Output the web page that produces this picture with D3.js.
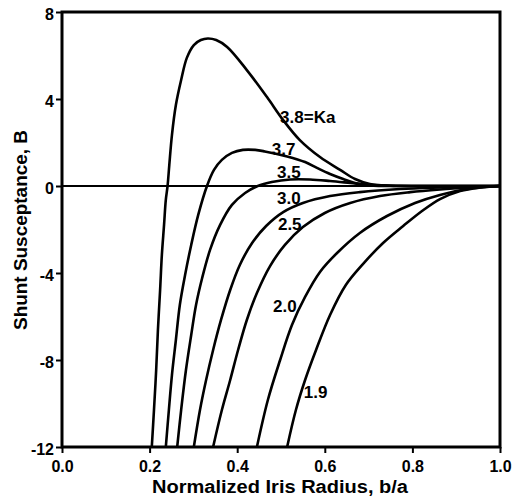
<!DOCTYPE html>
<html><head><meta charset="utf-8">
<script src="https://cdn.jsdelivr.net/npm/d3@7"></script>
<style>body{margin:0;background:#fff}svg{display:block}</style>
</head><body>
<script>
// Data: [b/a, B] pairs per Ka value
const kaLabels = ["3.8=Ka","3.7","3.5","3.0","2.5","2.0","1.9"];
const ka38 = [[0.205,-12],[0.210,-10.3],[0.215,-8.46],[0.219,-6.62],[0.224,-4.78],[0.228,-3.17],[0.233,-1.79],[0.237,-0.64],[0.241,0],[0.245,0.97],[0.251,2.34],[0.260,3.72],[0.272,4.87],[0.285,5.89],[0.301,6.48],[0.317,6.71],[0.333,6.78],[0.352,6.71],[0.377,6.39],[0.422,5.33],[0.468,4.09],[0.505,3.03],[0.543,2.11],[0.589,1.33],[0.635,0.74],[0.669,0.32],[0.703,0.09],[0.749,0.01],[0.85,0],[1.0,0]];
const ka37 = [[0.237,-12],[0.244,-10.3],[0.251,-8.69],[0.260,-7.08],[0.269,-5.47],[0.281,-4.09],[0.295,-2.71],[0.311,-1.33],[0.331,0],[0.347,0.74],[0.365,1.20],[0.388,1.52],[0.413,1.66],[0.441,1.66],[0.463,1.59],[0.514,1.36],[0.555,1.10],[0.582,0.83],[0.612,0.55],[0.642,0.32],[0.669,0.14],[0.703,0.03],[0.772,0],[0.85,0],[1.0,0]];
const ka35 = [[0.263,-12],[0.272,-10.3],[0.283,-8.46],[0.295,-6.85],[0.306,-5.47],[0.320,-4.23],[0.338,-2.94],[0.361,-1.79],[0.388,-0.87],[0.418,-0.32],[0.447,0],[0.479,0.18],[0.521,0.30],[0.566,0.30],[0.612,0.23],[0.658,0.14],[0.703,0.05],[0.772,0.01],[0.85,0],[1.0,0]];
const ka30 = [[0.301,-12],[0.315,-10.3],[0.329,-8.92],[0.345,-7.54],[0.363,-6.16],[0.384,-4.78],[0.406,-3.63],[0.434,-2.62],[0.466,-1.84],[0.505,-1.20],[0.550,-0.78],[0.612,-0.46],[0.680,-0.28],[0.772,-0.14],[0.863,-0.07],[1.0,0]];
const ka25 = [[0.345,-12],[0.365,-10.3],[0.384,-8.92],[0.402,-7.54],[0.422,-6.16],[0.445,-4.92],[0.475,-3.68],[0.509,-2.71],[0.550,-1.89],[0.600,-1.24],[0.658,-0.78],[0.726,-0.46],[0.795,-0.28],[0.863,-0.16],[0.932,-0.07],[1.0,0]];
const ka20 = [[0.445,-12],[0.470,-9.84],[0.498,-8.0],[0.525,-6.39],[0.555,-5.10],[0.589,-3.95],[0.628,-3.08],[0.680,-2.16],[0.742,-1.38],[0.806,-0.78],[0.863,-0.41],[0.925,-0.14],[1.0,0]];
const ka19 = [[0.514,-12],[0.534,-10.3],[0.555,-8.92],[0.580,-7.54],[0.612,-5.93],[0.648,-4.55],[0.687,-3.59],[0.733,-2.62],[0.779,-1.84],[0.822,-1.15],[0.863,-0.60],[0.909,-0.23],[0.954,-0.07],[1.0,0]];
const seriesList = [ka38, ka37, ka35, ka30, ka25, ka20, ka19];
// label anchor positions in data units [b/a, B]
const labelPos = [[0.498,2.9],[0.479,1.43],[0.491,0.37],[0.491,-0.83],[0.493,-2.02],[0.482,-5.79],[0.552,-9.75]];
const xTicks = [0,0.2,0.4,0.6,0.8,1.0];
const xTickLabels = ["0.0","0.2","0.4","0.6","0.8","1.0"];
const yTicks = [-12,-8,-4,0,4,8];
const yTickLabels = ["-12","-8","-4","0","4","8"];

const W = 514, H = 500;
const x = d3.scaleLinear().domain([0,1]).range([62,500]);
const y = d3.scaleLinear().domain([-12,8]).range([447,12]);

const svg = d3.select("body").append("svg").attr("width",W).attr("height",H);
const font = "'Liberation Sans', Arial, sans-serif";

svg.append("defs").append("clipPath").attr("id","clip")
  .append("rect").attr("x",x(0)).attr("y",y(8)).attr("width",x(1)-x(0)).attr("height",y(-12)-y(8));

// zero line
svg.append("line").attr("x1",x(0)).attr("x2",x(1)).attr("y1",y(0)).attr("y2",y(0))
  .attr("stroke","#000").attr("stroke-width",2.2);

const line = d3.line().x(d=>x(d[0])).y(d=>y(d[1])).curve(d3.curveCatmullRom.alpha(0.5));
svg.append("g").attr("clip-path","url(#clip)").selectAll("path").data(seriesList).join("path")
  .attr("d",line).attr("fill","none").attr("stroke","#000").attr("stroke-width",2.6)
  .attr("stroke-linejoin","round");

// axes
const xAxis = d3.axisBottom(x).tickValues(xTicks).tickFormat((d,i)=>xTickLabels[i]).tickSize(6).tickPadding(8);
const gx = svg.append("g").attr("transform",`translate(0,${y(-12)})`).call(xAxis);
const yAxis = d3.axisLeft(y).tickValues(yTicks).tickFormat((d,i)=>yTickLabels[i]).tickSize(6).tickPadding(2);
const gy = svg.append("g").attr("transform",`translate(${x(0)},0)`).call(yAxis);
[gx,gy].forEach(g=>{
  g.select(".domain").remove();
  g.selectAll(".tick line").attr("stroke","#000").attr("stroke-width",2);
  g.selectAll(".tick text").attr("fill","#000").attr("font-family",font).attr("font-weight","bold").attr("font-size",16);
});
gy.selectAll(".tick text").attr("dy","0.45em");

// frame
svg.append("rect").attr("x",x(0)).attr("y",y(8)).attr("width",x(1)-x(0)).attr("height",y(-12)-y(8))
  .attr("fill","none").attr("stroke","#000").attr("stroke-width",3);

// curve labels
svg.selectAll("text.lab").data(kaLabels).join("text").attr("class","lab")
  .attr("x",(d,i)=>x(labelPos[i][0])).attr("y",(d,i)=>y(labelPos[i][1]))
  .attr("font-family",font).attr("font-weight","bold").attr("font-size",17)
  .attr("fill","#000").text(d=>d);

// axis titles
svg.append("text").attr("x",280).attr("y",493).attr("text-anchor","middle")
  .attr("font-family",font).attr("font-weight","bold").attr("font-size",18)
  .attr("textLength",256).attr("lengthAdjust","spacingAndGlyphs")
  .text("Normalized Iris Radius, b/a");
svg.append("text").attr("transform","translate(27,230) rotate(-90)").attr("text-anchor","middle")
  .attr("font-family",font).attr("font-weight","bold").attr("font-size",18)
  .attr("textLength",200).attr("lengthAdjust","spacingAndGlyphs")
  .text("Shunt Susceptance, B");
</script>
</body></html>
